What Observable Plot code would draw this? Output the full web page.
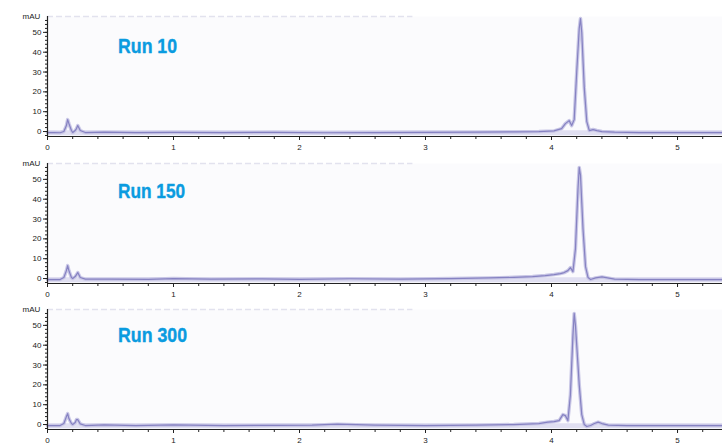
<!DOCTYPE html>
<html>
<head>
<meta charset="utf-8">
<script src="https://cdn.jsdelivr.net/npm/d3@7"></script>
<script src="https://cdn.jsdelivr.net/npm/@observablehq/plot@0.6"></script>
<style>
  body { margin: 0; background: #ffffff; width: 722px; height: 444px; overflow: hidden; }
  #chart { position: relative; width: 722px; height: 444px; }
  .panel { display: block; }
</style>
</head>
<body>
<div id="chart"></div>
<script>
// Run labels
const runLabels = ["Run 10", "Run 150", "Run 300"];
const labelX = [0.56, 0.56, 0.56];
const labelY = [43, 44, 45];

// x ticks (minutes) and y ticks (mAU)
const xMajorTicks = [0, 1, 2, 3, 4, 5];
const yMajorTicks = [0, 10, 20, 30, 40, 50];
const yUnit = "mAU";

// Run 10 trace
const run10T = [0,0.05,0.1,0.13,0.15,0.16,0.17,0.19,0.2,0.22,0.23,0.24,0.26,0.3,0.45,0.7,1.0,1.4,1.8,2.2,2.6,3.0,3.4,3.7,3.9,4.02,4.08,4.11,4.14,4.16,4.18,4.2,4.22,4.23,4.24,4.26,4.28,4.3,4.33,4.36,4.4,4.5,4.7,5.0,5.36];
const run10S = [-0.5,-0.5,-0.6,0,3,6,4,0.5,-0.5,0.5,1.5,3,0.5,-0.5,-0.3,-0.5,-0.4,-0.5,-0.4,-0.6,-0.5,-0.4,-0.3,-0.2,0,0.3,1.5,4,5.5,3,6,30,52,57,50,22,5,0.5,1,0.5,0,-0.3,-0.5,-0.5,-0.5];

// Run 150 trace
const run150T = [0,0.05,0.1,0.13,0.15,0.16,0.17,0.19,0.2,0.22,0.23,0.24,0.26,0.3,0.5,0.8,1.0,1.3,1.7,2.0,2.4,2.8,3.2,3.5,3.7,3.85,3.95,4.02,4.07,4.1,4.13,4.15,4.17,4.19,4.21,4.22,4.23,4.25,4.27,4.29,4.31,4.35,4.4,4.5,4.7,5.0,5.36];
const run150S = [-0.5,-0.5,-0.5,0.5,4,6.5,4,0.5,0,1,2,3,0.5,-0.3,-0.3,-0.4,0,-0.3,-0.2,-0.4,-0.1,-0.3,0,0.3,0.6,1.0,1.5,2,2.5,3,4,5.5,3.5,15,45,56,52,25,6,0.5,-0.5,0.3,0.8,-0.3,-0.5,-0.5,-0.5];

// Run 300 trace
const run300T = [0,0.05,0.1,0.13,0.15,0.16,0.17,0.19,0.2,0.22,0.23,0.24,0.26,0.3,0.45,0.7,1.0,1.4,1.8,2.1,2.3,2.6,3.0,3.4,3.7,3.9,3.97,4.02,4.06,4.09,4.11,4.13,4.15,4.17,4.18,4.19,4.2,4.22,4.24,4.26,4.28,4.31,4.34,4.37,4.4,4.45,4.6,5.0,5.36];
const run300S = [-0.5,-0.5,-0.5,0.5,4,5.5,3,0.5,0,1,2.5,2.5,0.3,-0.5,-0.2,-0.5,-0.2,-0.5,-0.4,-0.3,0.2,-0.3,-0.5,-0.3,0,0.5,1.2,1.5,2,5,4.5,2,15,45,56,50,40,20,5,0,-1,-0.5,0.5,1.2,0.5,-0.3,-0.5,-0.5,-0.5];

const runs = [[run10T, run10S], [run150T, run150S], [run300T, run300S]];
const panelHeights = [147, 146, 151];
const labelWidths = [59, 67, 69];

const FONT = "'Liberation Sans', Arial, sans-serif";
const AXIS = "#222222";
const TRACE = "#8682c2";
const TRACE_HALO = "#c9c7e6";
const LABEL = "#0a9be0";

function makePanel(i) {
  const [T, S] = runs[i];
  const data = T.map((t, k) => ({t, s: S[k]}));
  const h = panelHeights[i];
  const svg = Plot.plot({
    width: 722,
    height: h,
    marginLeft: 47,
    marginRight: 0,
    marginTop: 16,
    marginBottom: h - 136,
    style: {background: "transparent", overflow: "visible", fontFamily: FONT, fontSize: "8px", color: AXIS},
    x: {domain: [0, 5.357], axis: null},
    y: {domain: [-2.5, 58], axis: null},
    marks: [
      Plot.frame({fill: "#fbfbfd", stroke: null}),
      Plot.ruleY([58], {stroke: "#e2e2ee", strokeWidth: 1.5, strokeDasharray: "6,3", x1: 0, x2: 2.9}),
      Plot.ruleY([-0.6], {stroke: "#e0dff1", strokeWidth: 5}),
      Plot.line(data, {x: "t", y: "s", stroke: TRACE_HALO, strokeWidth: 3.5, curve: "linear"}),
      Plot.line(data, {x: "t", y: "s", stroke: TRACE, strokeWidth: 1.2, curve: "linear"}),
      Plot.ruleX([0], {stroke: AXIS, strokeWidth: 1.2}),
      Plot.ruleY([-2.5], {stroke: AXIS, strokeWidth: 1.2}),
      Plot.axisY({ticks: d3.range(-2, 58, 2), tickSize: 2, text: null, label: null, stroke: AXIS}),
      Plot.axisY({ticks: yMajorTicks, tickSize: 4, tickPadding: 2, label: null, fontSize: 8, stroke: AXIS, tickFormat: d3.format("d")}),
      Plot.axisX({ticks: d3.range(0, 5.36, 0.2), tickSize: 3, text: null, label: null, stroke: AXIS}),
      Plot.axisX({ticks: xMajorTicks, tickSize: 4, tickPadding: 4, label: null, fontSize: 8, stroke: AXIS, tickFormat: d3.format("d")}),
      Plot.text([yUnit], {frameAnchor: "top-left", dx: -16, dy: -3, text: d => d, fontSize: 8, fill: AXIS, textAnchor: "middle"}),
      Plot.text([runLabels[i]], {x: labelX[i], y: labelY[i], text: d => d, fill: LABEL, stroke: LABEL, strokeWidth: 0.4, fontSize: 20, fontWeight: "bold", textAnchor: "start"})
    ]
  });
  svg.querySelectorAll("text").forEach(el => {
    if (el.textContent === runLabels[i]) {
      el.setAttribute("textLength", labelWidths[i]);
      el.setAttribute("lengthAdjust", "spacingAndGlyphs");
    }
  });
  return svg;
}

const chart = document.getElementById("chart");
for (let i = 0; i < 3; i++) {
  const svg = makePanel(i);
  svg.classList.add("panel");
  chart.appendChild(svg);
}
</script>
</body>
</html>
